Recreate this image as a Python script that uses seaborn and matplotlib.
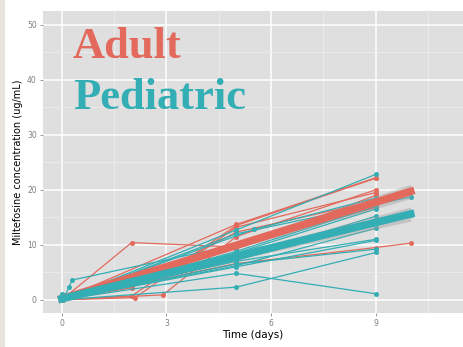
import numpy as np
import pandas as pd
import matplotlib
matplotlib.use("Agg")
import matplotlib.pyplot as plt
from matplotlib.patches import Rectangle
import seaborn as sns

# ---- data ----
subject = (["A1"] * 4 + ["A2"] * 4 + ["A3"] * 4 + ["A4"] * 4 + ["A5"] * 4 +
           ["A6"] * 4 + ["A7"] * 3 + ["A8"] * 3 + ["A9"] * 3 +
           ["P1"] * 5 + ["P2"] * 3 + ["P3"] * 3 + ["P4"] * 3 + ["P5"] * 3 +
           ["P6"] * 3 + ["P7"] * 3 + ["P8"] * 3 + ["P9"] * 3 + ["P10"] * 3 +
           ["P11"] * 3 + ["P12"] * 3 + ["P13"] * 3 + ["P14"] * 3 + ["P15"] * 3 +
           ["P16"] * 4)
time = ([0, 2, 5, 9], [0, 2, 5, 9], [0, 2.1, 5, 9], [0, 2.9, 5, 9], [0, 2, 5, 9],
        [0, 5, 9, 10], [0, 5, 9], [0, 5, 9], [0, 5, 9],
        [0, 0.1, 0.2, 0.3, 5], [0, 5, 9], [0, 5.5, 9], [0, 5, 10], [0, 5, 9],
        [0, 5, 9], [0, 5, 9], [0, 5, 9], [0, 5, 9], [0, 5, 9],
        [0, 5, 9], [0, 5, 9], [0, 5, 10], [0, 5, 9], [0, 5, 10],
        [0, 0.1, 5, 9])
conc = ([0, 10.4, 9.6, 16.8], [0, 0.7, 13.5, 22.1], [0, 0.4, 13.2, 19.5], [0, 0.9, 11.5, 20.0],
        [0, 2.2, 12.3, 18.0], [0, 6.6, 9.5, 10.3], [0, 10.0, 17.2], [0, 9.3, 19.0],
        [0.1, 13.7, 22.2],
        [0.4, 0.8, 2.3, 3.6, 10.0], [0, 12.7, 22.8], [0, 12.8, 18.5], [0, 12.0, 18.7],
        [0, 8.8, 17.0], [0, 7.5, 15.2], [0, 6.2, 13.0], [0, 6.0, 10.8], [0, 4.8, 1.1],
        [0, 2.3, 8.6], [0, 7.0, 11.0], [0, 6.5, 9.2], [0, 8.2, 15.8], [0, 7.8, 14.5],
        [0, 7.2, 15.5], [1.0, 0.3, 8.5, 16.5])
time = [t for row in time for t in row]
conc = [c for row in conc for c in row]
group = ["Adult" if s.startswith("A") else "Pediatric" for s in subject]

fit_time = [0, 5, 10]
adult_fit = [0.2, 9.9, 19.7]
adult_lo = [-0.3, 9.3, 18.4]
adult_hi = [0.7, 10.5, 21.0]
ped_fit = [0.2, 7.9, 15.6]
ped_lo = [-0.3, 7.3, 14.3]
ped_hi = [0.7, 8.5, 16.9]

x_ticks = [0, 3, 6, 9]
y_ticks = [0, 10, 20, 30, 40, 50]

RED = "#E2695C"
TEAL = "#33AEB4"

df = pd.DataFrame({"subject": subject, "group": group, "time": time, "conc": conc})

# ---- figure ----
fig = plt.figure(figsize=(4.63, 3.47), dpi=100)
fig.patch.set_facecolor("white")
fig.patches.append(Rectangle((0, 0), 5 / 463, 1, transform=fig.transFigure,
                             facecolor="#E9E5DD", edgecolor="none", zorder=0))
ax = fig.add_axes([43 / 463, 1 - 313 / 347, 420 / 463, 302 / 347])
ax.set_facecolor("#DFDFDF")

sns.lineplot(data=df, x="time", y="conc", hue="group", units="subject", estimator=None,
             palette={"Adult": RED, "Pediatric": TEAL}, marker="o", markersize=3.6,
             markeredgewidth=0, linewidth=0.9, legend=False, ax=ax, zorder=3)

ax.fill_between(fit_time, adult_lo, adult_hi, color="#9A9A9A", alpha=0.4, lw=0, zorder=4)
sns.lineplot(x=fit_time, y=adult_fit, color=RED, linewidth=5.5, ax=ax, zorder=5)
ax.fill_between(fit_time, ped_lo, ped_hi, color="#9A9A9A", alpha=0.4, lw=0, zorder=4)
sns.lineplot(x=fit_time, y=ped_fit, color=TEAL, linewidth=5.5, ax=ax, zorder=6)

ax.set_xlim(-0.54, 11.5)
ax.set_ylim(-2.4, 52.5)
ax.set_xticks(x_ticks)
ax.set_yticks(y_ticks)
ax.set_xticks([1.5, 4.5, 7.5, 10.5], minor=True)
ax.set_yticks([5, 15, 25, 35, 45], minor=True)
ax.grid(which="major", color="white", linewidth=1.1, zorder=0)
ax.grid(which="minor", color="#EDEDED", linewidth=0.6, zorder=0)
ax.set_axisbelow(True)
for sp in ax.spines.values():
    sp.set_visible(False)
ax.tick_params(which="major", length=2.5, width=0.6, color="#888888",
               labelcolor="#7F7F7F", labelsize=5.5, pad=2)
ax.tick_params(which="minor", length=0)

ax.set_xlabel("Time (days)", fontsize=7.5, color="black", labelpad=1)
ax.set_ylabel("Miltefosine concentration (ug/mL)", fontsize=7, color="black", labelpad=3)

ax.text(0.0714, 0.845, "Adult", transform=ax.transAxes, color=RED,
        family="Liberation Serif", weight="bold", fontsize=32, va="baseline", ha="left")
ax.text(0.0714, 0.675, "Pediatric", transform=ax.transAxes, color=TEAL,
        family="Liberation Serif", weight="bold", fontsize=32, va="baseline", ha="left")

fig.savefig("out.png", dpi=100)
